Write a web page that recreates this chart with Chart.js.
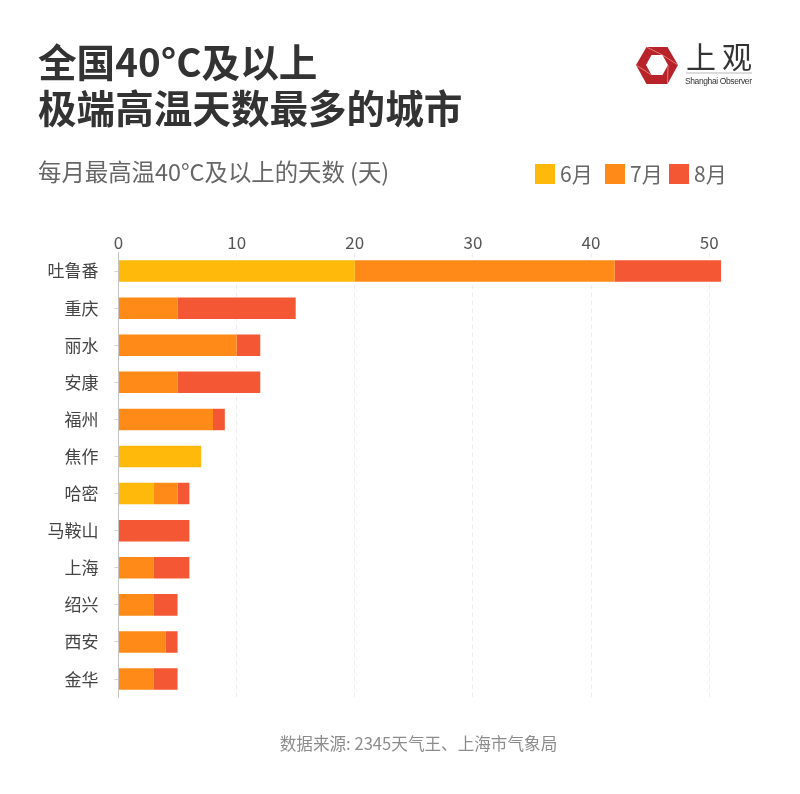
<!DOCTYPE html>
<html>
<head>
<meta charset="utf-8">
<style>
  html, body { margin: 0; padding: 0; background: #fff; }
  body { width: 800px; height: 794px; position: relative; overflow: hidden; font-family: "Noto Sans CJK SC", "Noto Sans", sans-serif; }
  #myChart { position: absolute; left: 0; top: 0; }
  .txt { position: absolute; white-space: nowrap; }
  .title { left: 38px; font-size: 38.6px; font-weight: 700; color: #333; line-height: 46px; }
  .sub { left: 38px; top: 155px; font-size: 23.4px; line-height: 32px; color: #666; }
  .src { left: 0; width: 837px; text-align: center; top: 732px; font-size: 16.6px; line-height: 22px; color: #8c8c8c; }
  .key { position: absolute; top: 164px; width: 20px; height: 20px; }
  .keytxt { position: absolute; top: 158px; font-size: 21px; line-height: 30px; color: #666; }
  #logo { position: absolute; left: 630px; top: 38px; }
</style>
</head>
<body>
<canvas id="myChart" width="800" height="794"></canvas>

<div class="txt title" style="top:37px">全国40°C及以上</div>
<div class="txt title" style="top:83px">极端高温天数最多的城市</div>
<div class="txt sub">每月最高温40°C及以上的天数 (天)</div>
<div id="keys"></div>
<div class="txt src">数据来源: 2345天气王、上海市气象局</div>

<svg id="logo" width="130" height="54" viewBox="0 0 130 54">
  <polygon points="6,27 16.5,9 37.5,9 48,27 37.5,46 16.5,46" fill="#b8232a"/>
  <polygon points="16,27 21.5,17 32.5,17 38,27 32.5,37 21.5,37" fill="#fff"/>
  <g stroke="#e8908c" stroke-width="0.8">
    <line x1="16.5" y1="9" x2="32.5" y2="17"/>
    <line x1="48" y1="27" x2="32.5" y2="17"/>
    <line x1="37.5" y1="46" x2="38" y2="27"/>
    <line x1="6" y1="27" x2="21.5" y2="37"/>
  </g>
  <line x1="56" y1="35" x2="122" y2="35" stroke="#999" stroke-width="0.7"/>
  <text x="56" y="30" font-size="30" font-family="Noto Sans CJK SC" fill="#333" textLength="66">上观</text>
  <text x="55" y="46" font-size="8.5" font-family="Liberation Sans" fill="#333" textLength="67">Shanghai Observer</text>
</svg>

<script src="https://cdn.jsdelivr.net/npm/chart.js@4"></script>
<script>
const cities = ['吐鲁番', '重庆', '丽水', '安康', '福州', '焦作', '哈密', '马鞍山', '上海', '绍兴', '西安', '金华'];
const june = [20, 0, 0, 0, 0, 7, 3, 0, 0, 0, 0, 0];
const july = [22, 5, 10, 5, 8, 0, 2, 0, 3, 3, 4, 3];
const august = [9, 10, 2, 7, 1, 0, 1, 6, 3, 2, 1, 2];
const xTicks = [0, 10, 20, 30, 40, 50];

const monthNames = ['6月', '7月', '8月'];
const monthColors = ['#ffb90b', '#ff8a17', '#f45733'];

// legend sits on the subtitle row, easier in html than moving the chart legend
const keyLeft = [535, 605, 669];
const keys = document.getElementById('keys');
monthNames.forEach((name, i) => {
  keys.innerHTML += `<div class="key" style="left:${keyLeft[i]}px;background:${monthColors[i]}"></div>` +
    `<div class="keytxt" style="left:${keyLeft[i] + 25}px">${name}</div>`;
});

const myChart = new Chart(document.getElementById('myChart'), {
  type: 'bar',
  data: {
    labels: cities,
    datasets: [
      { label: monthNames[0], data: june, backgroundColor: monthColors[0] },
      { label: monthNames[1], data: july, backgroundColor: monthColors[1] },
      { label: monthNames[2], data: august, backgroundColor: monthColors[2] },
    ],
  },
  options: {
    indexAxis: 'y',
    responsive: false,
    animation: false,
    barPercentage: 0.58,
    categoryPercentage: 1,
    layout: { padding: { right: 79, bottom: 96.4 } },
    plugins: { legend: { display: false }, tooltip: { enabled: false } },
    scales: {
      x: {
        position: 'top',
        stacked: true,
        min: 0,
        max: 51,
        afterBuildTicks: (axis) => { axis.ticks = xTicks.map((v) => ({ value: v })); },
        afterFit: (axis) => { axis.height = 252.5; },
        border: { display: false, dash: [4, 4] },
        grid: { color: '#ececec', drawTicks: false },
        ticks: { color: '#555', padding: 0, maxRotation: 0, font: { size: 17, family: '"Noto Sans CJK SC"' } },
      },
      y: {
        stacked: true,
        afterFit: (axis) => { axis.width = 118.5; },
        border: { color: '#c4c4c4' },
        grid: { offset: false, drawOnChartArea: false, color: '#d4d4d4', tickLength: 4 },
        ticks: { color: '#444', padding: 16, font: { size: 17, family: '"Noto Sans CJK SC"' } },
      },
    },
  },
});
</script>
</body>
</html>
